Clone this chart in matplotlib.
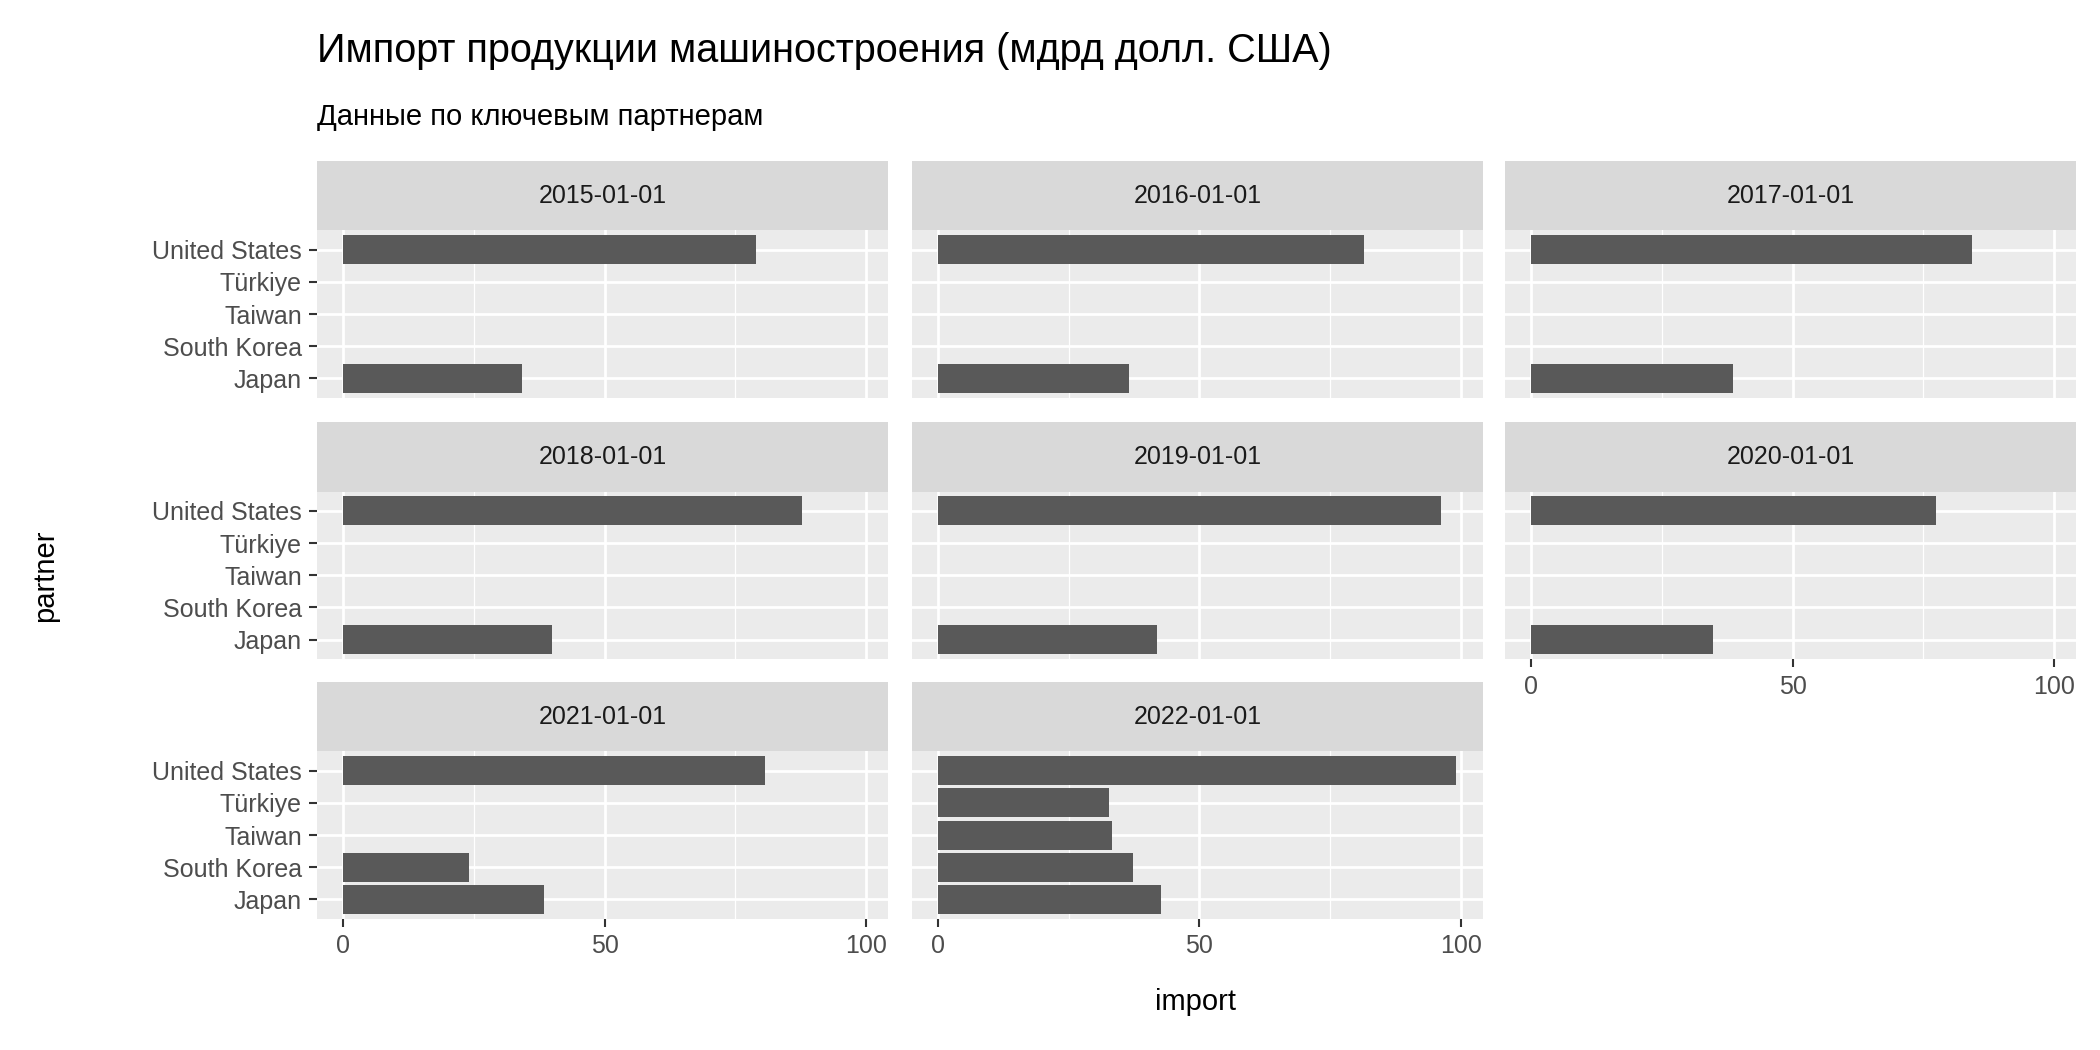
import matplotlib.pyplot as plt

partners = ["Japan", "South Korea", "Taiwan", "Türkiye", "United States"]
years = ["2015-01-01", "2016-01-01", "2017-01-01", "2018-01-01",
         "2019-01-01", "2020-01-01", "2021-01-01", "2022-01-01"]
# values per year in order of partners (None = no data)
imports = {
    "2015-01-01": [34.2, None, None, None, 79.0],
    "2016-01-01": [36.5, None, None, None, 81.6],
    "2017-01-01": [38.6, None, None, None, 84.4],
    "2018-01-01": [40.0, None, None, None, 87.7],
    "2019-01-01": [42.0, None, None, None, 96.2],
    "2020-01-01": [34.8, None, None, None, 77.5],
    "2021-01-01": [38.4, 24.0, None, None, 80.6],
    "2022-01-01": [42.6, 37.3, 33.2, 32.7, 99.2],
}

plt.rcParams['font.family'] = ['Liberation Sans', 'DejaVu Sans']
W, H = 1568, 784
fig = plt.figure(figsize=(14, 7), dpi=150)

cols = [(237, 663), (681, 1107), (1124, 1550)]
rows = [(120, 172, 297), (315, 367, 492), (509, 561, 686)]
xlim = (-4.96, 104.2)

for i, yr in enumerate(years):
    r, c = divmod(i, 3)
    x0, x1 = cols[c]
    st, pt, pb = rows[r]
    ax = fig.add_axes([x0 / W, 1 - pb / H, (x1 - x0) / W, (pb - pt) / H])
    sax = fig.add_axes([x0 / W, 1 - pt / H, (x1 - x0) / W, (pt - st) / H])
    sax.set_facecolor('#d9d9d9')
    sax.set_xticks([]); sax.set_yticks([])
    for s in sax.spines.values():
        s.set_visible(False)
    sax.text(0.5, 0.5, yr, ha='center', va='center', fontsize=12, color='#1a1a1a',
             transform=sax.transAxes)

    ax.set_facecolor('#ebebeb')
    for s in ax.spines.values():
        s.set_visible(False)
    ax.set_xlim(*xlim)
    ax.set_ylim(-0.6, len(partners) - 0.4)
    for v in [25, 75]:
        ax.axvline(v, color='white', lw=0.6, zorder=0)
    for v in [0, 50, 100]:
        ax.axvline(v, color='white', lw=1.3, zorder=0)
    for j in range(len(partners)):
        ax.axhline(j, color='white', lw=1.3, zorder=0)
    ys = [j for j, v in enumerate(imports[yr]) if v is not None]
    vs = [v for v in imports[yr] if v is not None]
    ax.barh(ys, vs, height=0.9, color='#595959', zorder=2)
    ax.set_axisbelow(True)
    ax.tick_params(colors='#333333', labelcolor='#4d4d4d', length=4, width=1, labelsize=12)
    ax.set_xticks([0, 50, 100])
    ax.set_yticks(range(len(partners)))
    if c == 0:
        ax.set_yticklabels(partners)
    else:
        ax.tick_params(axis='y', left=False, labelleft=False)
    if i + 3 < len(years):
        ax.tick_params(axis='x', bottom=False, labelbottom=False)

fig.text(237 / W, 1 - 38 / H, "Импорт продукции машиностроения (мдрд долл. США)",
         fontsize=19, va='center', ha='left')
fig.text(237 / W, 1 - 87 / H, "Данные по ключевым партнерам",
         fontsize=14, va='center', ha='left')
fig.text(893 / W, 1 - 748 / H, "import", fontsize=14, ha='center', va='center')
fig.text(34 / W, 1 - 430 / H, "partner", fontsize=14, ha='center', va='center', rotation=90)

fig.savefig("out.png", dpi=150)
